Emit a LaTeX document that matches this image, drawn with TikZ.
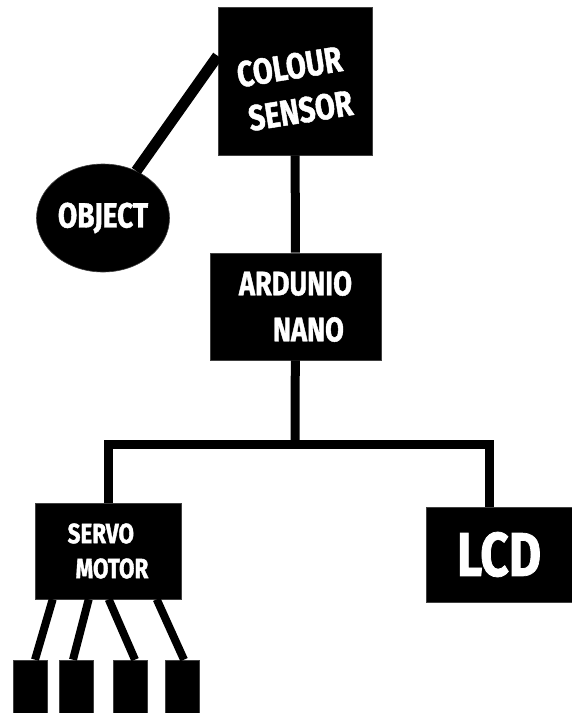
\documentclass[tikz,border=0pt]{standalone}
\usepackage{fontspec}
\usepackage{tikz}
\usetikzlibrary{shapes.geometric}
\newfontfamily\boxfont{Fira Sans}[FakeStretch=0.8, FakeBold=1.2]

\begin{document}
\begin{tikzpicture}[x=1pt, y=-1pt,
  blk/.style={fill=black, draw=black!75, line width=0.6pt, text=white,
              inner sep=0pt, font=\boxfont\bfseries},
  wire/.style={line width=9pt}]
\useasboundingbox (0,0) rectangle (572,713);
\node[blk, minimum width=154pt, minimum height=148pt] (CS) at (295,81) {};
\node[text=white, rotate=9, align=center, inner sep=0pt,
  font=\boxfont\bfseries\fontsize{36}{45}\selectfont] (CStext) at (293,89)
  {COLOUR\\\hspace{8pt}SENSOR};
\node[blk, ellipse, minimum width=133pt, minimum height=108pt,
  font=\boxfont\bfseries\fontsize{35}{40}\selectfont] (OBJ) at (103,218) {OBJECT};
\node[blk, minimum width=171pt, minimum height=107pt, align=left,
  font=\boxfont\bfseries\fontsize{34}{46}\selectfont] (AN) at (295.5,306.5)
  {ARDUNIO\\\hspace{34pt}NANO};
\node[blk, minimum width=146pt, minimum height=96pt, align=left,
  font=\boxfont\bfseries\fontsize{28}{35}\selectfont] (SM) at (108,551)
  {SERVO\\\hspace{8pt}MOTOR};
\node[blk, minimum width=146pt, minimum height=95pt,
  font=\boxfont\bfseries\fontsize{62}{70}\selectfont] (LCD) at (499,554.5) {LCD};
\foreach \i/\x in {1/30, 2/76, 3/130, 4/182}
  \node[blk, minimum width=34pt, minimum height=60pt] (P\i) at (\x,690) {};
\coordinate (bus) at (295,444);
\draw[wire, line width=11pt] (OBJ) -- (CS.162);
\draw[wire] (CS) -- (AN);
\draw[wire] (AN) -- (bus);
\draw[wire] (SM.north) |- (bus) -| ([xshift=-10pt]LCD.north);
\foreach \i/\dx/\px in {1/18/5, 2/54/-3, 3/74/5, 4/122/2}
  \draw[wire, line width=8pt] ([xshift=\dx pt]SM.south west) -- ([xshift=\px pt]P\i.north);
\end{tikzpicture}
\end{document}
